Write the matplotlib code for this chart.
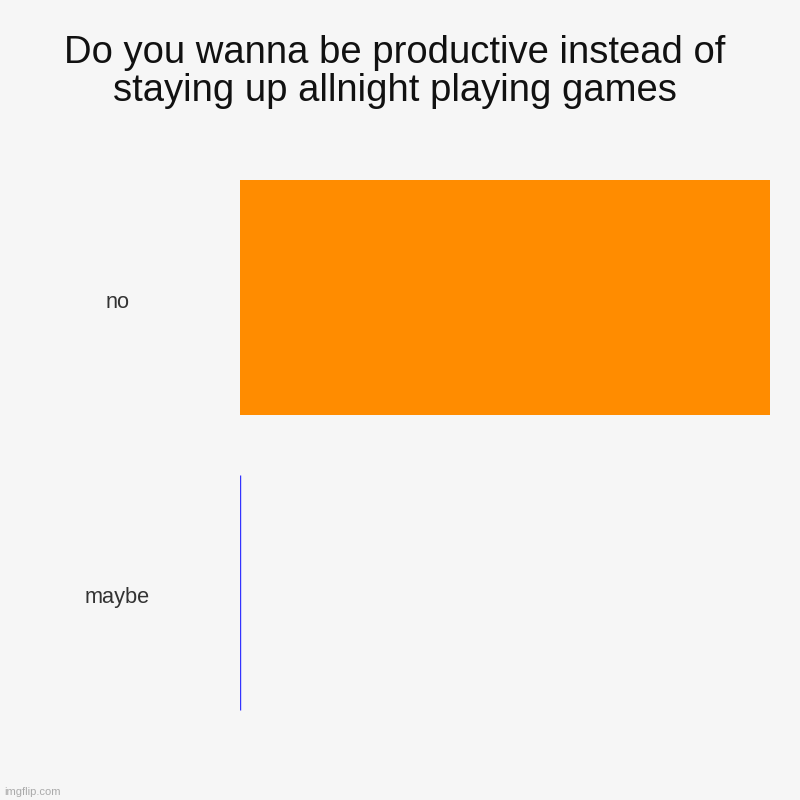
import matplotlib
matplotlib.use("Agg")
import matplotlib.pyplot as plt

categories = ["no", "maybe"]
values = [1.0, 0.0]
colors = ["#ff8c00", "#3333ff"]
title_lines = ["Do you wanna be productive instead of",
               "staying up allnight playing games"]

plt.rcParams['font.family'] = ['Liberation Sans', 'DejaVu Sans']
bg = "#f6f6f6"
fig = plt.figure(figsize=(8, 8), dpi=100, facecolor=bg)
ax = fig.add_axes([0.3, 0.075, 0.6625, 0.7375], facecolor=bg)

ypos = list(range(len(categories)))
for y, v, c in zip(ypos, values, colors):
    if v > 0:
        ax.barh(y, v, height=0.797, color=c, linewidth=0)
    else:
        ax.barh(y, v, height=0.797, color=c, edgecolor=c, linewidth=1)

ax.set_xlim(0, max(values))
ax.set_ylim(len(categories) - 0.5, -0.5)
for s in ax.spines.values():
    s.set_visible(False)
ax.set_xticks([])
ax.set_yticks([])

for y, cat in zip(ypos, categories):
    ax.annotate(cat, xy=(0, y), xycoords=('axes fraction', 'data'),
                xytext=(117.5, -11), textcoords=('figure pixels', 'offset pixels'),
                ha='center', va='baseline', fontsize=15.7, color='#333333')

for i, line in enumerate(title_lines):
    fig.text(395 / 800, 1 - (63 + 38 * i) / 800, line, ha='center', va='baseline',
             fontsize=27.5, color='#111111')
fig.text(4 / 800, 1 - 795 / 800, "imgflip.com", ha='left', va='baseline',
         fontsize=8, color='#aaaaaa')

fig.savefig("out.png", dpi=100, facecolor=bg)
